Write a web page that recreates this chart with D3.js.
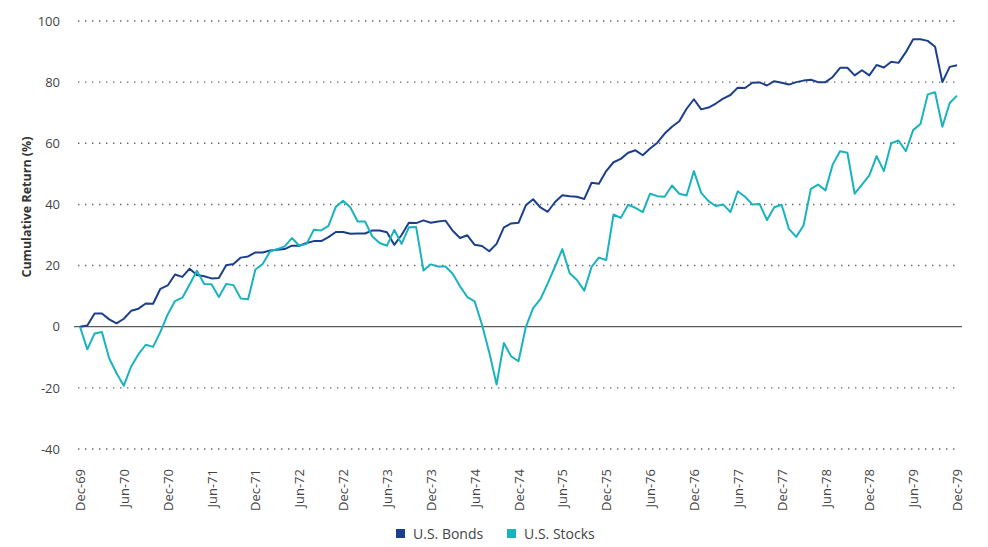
<!DOCTYPE html>
<html><head><meta charset="utf-8">
<script src="https://cdn.jsdelivr.net/npm/d3@7"></script>
<style>
body{margin:0;background:#fff;}
svg{font-family:"Open Sans",sans-serif;}
</style></head>
<body>
<svg id="c" width="988" height="547"></svg>
<script>
const tickLabels = ["Dec-69","Jun-70","Dec-70","Jun-71","Dec-71","Jun-72","Dec-72","Jun-73","Dec-73","Jun-74","Dec-74","Jun-75","Dec-75","Jun-76","Dec-76","Jun-77","Dec-77","Jun-78","Dec-78","Jun-79","Dec-79"];
const yTicks = [-40,-20,0,20,40,60,80,100];
const bonds = [0,0.4,4.3,4.3,2.4,1.1,2.6,5.2,5.9,7.6,7.5,12.4,13.5,17.1,16.3,19.0,16.9,16.5,15.8,15.9,20.1,20.5,22.6,23.0,24.3,24.3,24.9,25.2,25.4,26.5,26.5,27.4,28.0,28.0,29.3,31.0,31.0,30.4,30.5,30.5,31.5,31.5,30.9,26.8,30.0,34.0,33.9,34.8,34.0,34.4,34.7,31.4,29.0,29.9,26.8,26.4,24.7,27.1,32.5,33.8,34.0,39.7,41.7,39.0,37.6,40.8,43.0,42.7,42.5,41.8,47.1,46.8,50.9,53.8,54.9,56.9,57.7,56.1,58.3,60.2,63.2,65.4,67.2,71.3,74.4,71.1,71.7,73.0,74.6,75.8,78.2,78.1,79.8,79.9,78.9,80.3,79.8,79.2,80.0,80.5,80.8,80.0,80.0,81.7,84.7,84.7,82.2,83.9,82.2,85.6,84.8,86.7,86.3,89.8,94.0,94.0,93.5,91.6,80.0,85.0,85.5];
const stocks = [0,-7.4,-2.2,-1.7,-10.4,-15.2,-19.3,-13.0,-9.0,-5.9,-6.6,-1.7,4.0,8.4,9.5,13.8,18.3,14.0,13.9,9.7,14.0,13.6,9.2,9.0,18.7,20.5,24.6,25.4,26.3,29.0,26.5,27.1,31.7,31.5,33.0,39.2,41.2,39.0,34.4,34.4,29.5,27.4,26.5,31.7,27.1,32.5,32.6,18.4,20.4,19.7,19.7,17.3,13.2,9.7,8.3,0.7,-8.4,-18.9,-5.3,-9.7,-11.3,-0.1,6.1,9.0,14.2,19.7,25.4,17.5,15.3,11.8,19.6,22.6,21.8,36.7,35.6,39.9,38.9,37.5,43.5,42.7,42.5,46.2,43.5,42.9,50.9,43.8,41.1,39.5,40.0,37.5,44.3,42.5,40.0,40.1,34.9,39.1,39.9,32.0,29.4,33.1,45.1,46.5,44.6,53.1,57.4,56.9,43.5,46.5,49.5,55.8,50.9,60.0,60.9,57.4,64.3,66.3,76.0,76.7,65.4,73.2,75.6];
const seriesNames = ["U.S. Bonds","U.S. Stocks"];
const colors = ["#1c3f8c","#19b3c0"];

const svg = d3.select("#c");
const x = d3.scaleLinear().domain([0,120]).range([80,957]);
const y = d3.scaleLinear().domain([-40,100]).range([449,21]);

// grid
svg.append("g").selectAll("line").data(yTicks.filter(d=>d!==0)).join("line")
  .attr("x1",78).attr("x2",960).attr("y1",d=>y(d)).attr("y2",d=>y(d))
  .attr("stroke","#666").attr("stroke-width",1.4).attr("stroke-dasharray","1.4,5.6");
svg.append("line").attr("x1",74).attr("x2",962).attr("y1",y(0)).attr("y2",y(0))
  .attr("stroke","#333").attr("stroke-width",1);

// y axis labels
const yAxis = d3.axisLeft(y).tickValues(yTicks).tickFormat(d=>String(d)).tickSize(0).tickPadding(0);
const gy = svg.append("g").attr("transform","translate(60,0)").call(yAxis);
gy.select(".domain").remove();
gy.selectAll("text").attr("font-size",13).attr("fill","#444").attr("font-family","Open Sans");

svg.append("text").attr("transform",`translate(31,207) rotate(-90)`)
  .attr("text-anchor","middle").attr("font-size",12.5).attr("font-weight","bold").attr("fill","#333")
  .text("Cumulative Return (%)");

// x axis labels
const xAxis = d3.axisBottom(x).tickValues(d3.range(0,121,6)).tickFormat((d,i)=>tickLabels[i]).tickSize(0).tickPadding(0);
const gx = svg.append("g").attr("transform","translate(0,469)").call(xAxis);
gx.select(".domain").remove();
gx.selectAll("text").attr("font-size",13).attr("fill","#444").attr("font-family","Open Sans")
  .attr("text-anchor","end").attr("dy","0.35em").attr("transform","rotate(-90)").attr("x",0).attr("y",0);

// lines
const line = d3.line().x((d,i)=>x(i)).y(d=>y(d));
[bonds,stocks].forEach((s,k)=>{
  svg.append("path").datum(s).attr("fill","none").attr("stroke",colors[k])
    .attr("stroke-width",2).attr("stroke-linejoin","round").attr("d",line);
});

// legend
const leg = svg.append("g").attr("transform","translate(396,529)");
const lx = [0,111];
seriesNames.forEach((n,k)=>{
  leg.append("rect").attr("x",lx[k]).attr("y",0).attr("width",9).attr("height",9).attr("fill",colors[k]);
  leg.append("text").attr("x",lx[k]+17).attr("y",9.5).attr("font-size",14).attr("fill","#444").text(n);
});
</script>
</body></html>
